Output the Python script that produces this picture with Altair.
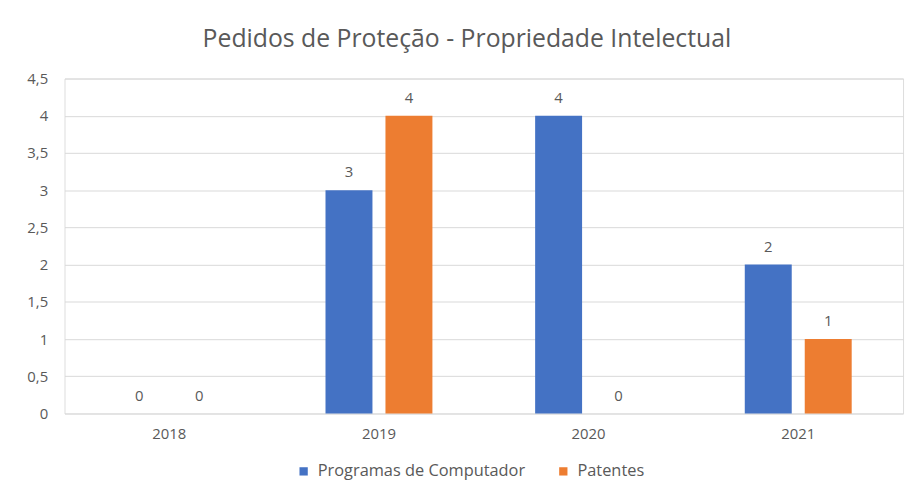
import altair as alt
import pandas as pd

years = ["2018", "2019", "2020", "2021"]
series = ["Programas de Computador", "Patentes"]
programas = [0, 3, 4, 2]
patentes = [0, 4, 0, 1]
colors = ["#4472C4", "#ED7D31"]
y_ticks = [0, 0.5, 1, 1.5, 2, 2.5, 3, 3.5, 4, 4.5]

rows = []
for i, y in enumerate(years):
    rows.append({"ano": y, "serie": series[0], "valor": programas[i]})
    rows.append({"ano": y, "serie": series[1], "valor": patentes[i]})
df = pd.DataFrame(rows)

FONT = "Open Sans"
TXT = "#595959"

x = alt.X("ano:N", title=None, sort=years,
          scale=alt.Scale(paddingInner=0.49, paddingOuter=0.245),
          axis=alt.Axis(labelAngle=0, labelFont=FONT, labelFontSize=15, labelColor=TXT,
                        ticks=False, domain=False, labelPadding=13))
xoff = alt.XOffset("serie:N", sort=series,
                   scale=alt.Scale(paddingInner=0.217, paddingOuter=0))
y = alt.Y("valor:Q", title=None,
          scale=alt.Scale(domain=[0, 4.5], nice=False, zero=True),
          axis=alt.Axis(values=y_ticks, labelOverlap=False,
                        labelExpr="replace(toString(datum.value), '.', ',')",
                        labelFont=FONT, labelFontSize=15, labelColor=TXT,
                        ticks=False, domain=False, labelPadding=17,
                        grid=True, gridColor="#D9D9D9", gridWidth=1))

base = alt.Chart(df)

bars = base.mark_bar().encode(
    x=x,
    xOffset=xoff,
    y=y,
    color=alt.Color("serie:N", sort=series,
                    scale=alt.Scale(domain=series, range=colors),
                    legend=alt.Legend(title=None, orient="none", direction="horizontal",
                                      legendX=233, legendY=388,
                                      symbolType="square", symbolSize=70,
                                      symbolStrokeWidth=0, labelLimit=400,
                                      labelFont=FONT, labelFontSize=16.5, labelColor=TXT,
                                      columnPadding=30, labelOffset=6)),
)

labels = base.mark_text(baseline="bottom", dy=-10, font=FONT, fontSize=15, color=TXT).encode(
    x=x,
    xOffset=xoff,
    y=y,
    text=alt.Text("valor:Q"),
)

chart = alt.layer(bars, labels).properties(
    width=846, height=338,
    title=alt.TitleParams("Pedidos de Proteção - Propriedade Intelectual",
                          font=FONT, fontSize=25, fontWeight="normal", color="#595959",
                          anchor="middle", offset=20, dx=-17),
    autosize=alt.AutoSizeParams(type="none"),
    padding={"left": 57, "top": 69, "right": 6, "bottom": 71},
).configure_view(stroke=None).configure(background="white")

chart.save("out.html", embed_options={"renderer": "svg", "actions": False})
